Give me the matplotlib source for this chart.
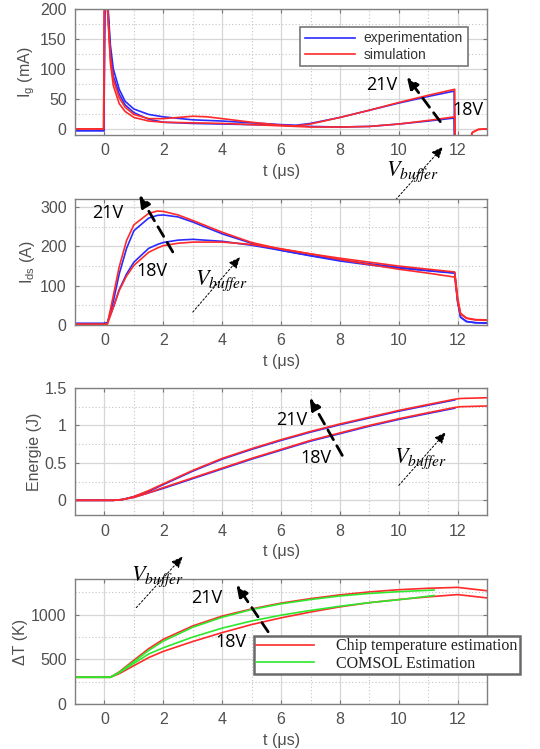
import numpy as np
import matplotlib
matplotlib.use("Agg")
import matplotlib.pyplot as plt
from matplotlib.ticker import MultipleLocator

plt.rcParams['font.family'] = ['Liberation Sans', 'DejaVu Sans']
plt.rcParams['mathtext.fontset'] = 'stix'

BLUE = '#2b2bff'
RED = '#ff2a2a'
GREEN = '#2ee82e'

# ---- gate current Ig (mA) ----
t_ig_exp21 = [-1, -0.02, 0.02, 0.1, 0.2, 0.3, 0.5, 0.7, 1.0, 1.5, 2, 3, 4, 5, 6, 6.5, 7, 8, 9, 10, 11, 11.88, 11.9, 13]
ig_exp21 = [-3, -3, 260, 220, 140, 100, 66, 46, 33, 24, 20, 15, 13, 10, 7, 6, 9, 19, 31, 43, 54, 63, -40, -40]
t_ig_exp18 = [-1, -0.02, 0.02, 0.1, 0.2, 0.3, 0.5, 0.7, 1.0, 1.5, 2, 3, 4, 5, 6, 7, 8, 9, 10, 11, 11.88, 11.9, 13]
ig_exp18 = [-3, -3, 260, 215, 125, 88, 58, 40, 27, 16, 11, 9, 8, 7, 6, 4, 3, 4, 8, 13, 18, -40, -40]
t_ig_sim21 = [-1, -0.03, 0.0, 0.1, 0.2, 0.3, 0.5, 0.7, 1.0, 1.5, 2, 2.5, 3, 3.5, 4, 5, 6, 6.5, 7, 8, 9, 10, 11, 11.9, 11.92, 12.3, 12.5, 12.7, 13]
ig_sim21 = [0, 0, 260, 200, 120, 82, 52, 36, 24, 17, 17, 19, 21, 20, 17, 11, 6, 5, 8, 19, 31, 44, 56, 66, -40, -40, -6, -1, 0]
t_ig_sim18 = [-1, -0.03, 0.0, 0.1, 0.2, 0.3, 0.5, 0.7, 1.0, 1.5, 2, 3, 4, 5, 6, 7, 8, 9, 10, 11, 11.9, 11.92, 12.3, 12.5, 12.7, 13]
ig_sim18 = [0, 0, 260, 205, 110, 72, 42, 29, 19, 13, 11, 10, 9, 7, 5, 3, 3, 4, 8, 14, 20, -40, -40, -6, -1, 0]

# ---- drain current Ids (A) ----
t_ids = [-1, 0, 0.1, 0.3, 0.5, 0.75, 1, 1.5, 1.8, 2, 2.5, 3, 4, 5, 6, 7, 8, 9, 10, 11, 11.9, 12.0, 12.1, 12.3, 12.6, 13]
ids_exp21 = [4, 4, 6, 60, 130, 195, 240, 272, 279, 280, 275, 262, 232, 208, 190, 177, 166, 156, 147, 139, 133, 60, 20, 9, 6, 5]
ids_sim21 = [2, 2, 3, 75, 148, 215, 255, 284, 290, 289, 280, 266, 236, 210, 193, 181, 170, 160, 150, 142, 135, 70, 30, 18, 14, 13]
ids_exp18 = [4, 4, 6, 45, 90, 130, 160, 195, 205, 210, 216, 218, 213, 203, 190, 176, 163, 153, 145, 138, 132, 60, 20, 9, 6, 5]
ids_sim18 = [2, 2, 3, 45, 88, 125, 152, 185, 196, 202, 208, 211, 211, 205, 194, 181, 167, 154, 142, 132, 122, 60, 28, 17, 13, 12]

# ---- energy (J) ----
t_e_exp = [-1, 0, 0.3, 0.6, 1, 1.5, 2, 3, 4, 5, 6, 7, 8, 9, 10, 11, 11.9]
e_exp21 = [0, 0, 0.0, 0.01, 0.05, 0.12, 0.21, 0.39, 0.55, 0.68, 0.80, 0.91, 1.01, 1.10, 1.19, 1.27, 1.34]
e_exp18 = [0, 0, 0.0, 0.01, 0.04, 0.10, 0.16, 0.29, 0.42, 0.55, 0.67, 0.79, 0.89, 0.99, 1.08, 1.16, 1.23]
t_e_sim = [-1, 0, 0.3, 0.6, 1, 1.5, 2, 3, 4, 5, 6, 7, 8, 9, 10, 11, 11.9, 12.1, 13]
e_sim21 = [0, 0, 0.0, 0.01, 0.05, 0.13, 0.22, 0.40, 0.56, 0.69, 0.81, 0.92, 1.02, 1.11, 1.20, 1.28, 1.35, 1.36, 1.37]
e_sim18 = [0, 0, 0.0, 0.01, 0.04, 0.10, 0.17, 0.30, 0.43, 0.56, 0.68, 0.80, 0.90, 1.00, 1.09, 1.17, 1.24, 1.25, 1.26]

# ---- temperature rise dT (K) ----
t_chip = [-1, 0, 0.2, 0.5, 1, 1.5, 2, 3, 4, 5, 6, 7, 8, 9, 10, 11, 12, 13]
dt_chip21 = [300, 300, 300, 360, 490, 620, 725, 875, 985, 1065, 1130, 1180, 1222, 1255, 1280, 1296, 1306, 1268]
dt_chip18 = [300, 300, 300, 340, 430, 520, 590, 700, 800, 890, 965, 1030, 1088, 1135, 1170, 1200, 1225, 1188]
t_comsol = [-1, 0, 0.2, 0.5, 1, 1.5, 2, 3, 4, 5, 6, 7, 8, 9, 10, 11.2]
dt_comsol21 = [300, 300, 300, 355, 475, 600, 705, 860, 972, 1058, 1122, 1170, 1210, 1238, 1258, 1276]
dt_comsol18 = [300, 300, 300, 350, 455, 560, 630, 750, 850, 930, 995, 1048, 1095, 1135, 1168, 1215]

xticks = [0, 2, 4, 6, 8, 10, 12]

fig = plt.figure(figsize=(5.4, 7.49), dpi=100)
L, W = 0.139, 0.763
ax1 = fig.add_axes([L, 0.820, W, 0.168])
ax2 = fig.add_axes([L, 0.566, W, 0.168])
ax3 = fig.add_axes([L, 0.312, W, 0.170])
ax4 = fig.add_axes([L, 0.060, W, 0.167])

TXT = '#505050'


def style(ax, ylim, ymaj, ylabel):
    ax.set_xlim(-1, 13)
    ax.set_ylim(*ylim)
    ax.set_xticks(xticks)
    ax.xaxis.set_minor_locator(MultipleLocator(1))
    ax.yaxis.set_major_locator(MultipleLocator(ymaj))
    ax.yaxis.set_minor_locator(MultipleLocator(ymaj / 2))
    ax.grid(which='major', color='#d6d6d6', lw=0.9, ls='-')
    ax.grid(which='minor', color='#c4c4c4', lw=0.8, ls=(0, (1, 2)))
    ax.set_axisbelow(True)
    ax.tick_params(which='both', direction='in', top=True, right=True, colors='#777777',
                   labelcolor=TXT, labelsize=11.5, length=3, pad=6)
    ax.tick_params(which='minor', length=0)
    for s in ax.spines.values():
        s.set_color('#808080')
        s.set_linewidth(1.0)
    ax.set_xlabel('t (\u03bcs)', fontsize=11.5, color=TXT, labelpad=4)
    ax.set_ylabel(ylabel, fontsize=11.5, color=TXT, labelpad=2)


lw = 1.2
# panel 1
ax1.plot(t_ig_exp21, ig_exp21, color=BLUE, lw=lw, label='experimentation')
ax1.plot(t_ig_exp18, ig_exp18, color=BLUE, lw=lw)
ax1.plot(t_ig_sim21, ig_sim21, color=RED, lw=lw, label='simulation')
ax1.plot(t_ig_sim18, ig_sim18, color=RED, lw=lw)
style(ax1, (-10, 200), 50, r'$\mathregular{I_g}$ (mA)')
leg1 = ax1.legend(loc='upper right', bbox_to_anchor=(0.97, 0.915), fontsize=10, frameon=True,
                  fancybox=False, handlelength=3.6, borderpad=0.35, labelspacing=0.15,
                  handletextpad=0.6, framealpha=1)
leg1.get_frame().set_edgecolor('#777777')
leg1.get_frame().set_linewidth(1.2)
for t in leg1.get_texts():
    t.set_color('#333333')

# panel 2
ax2.plot(t_ids, ids_exp21, color=BLUE, lw=lw)
ax2.plot(t_ids, ids_exp18, color=BLUE, lw=lw)
ax2.plot(t_ids, ids_sim21, color=RED, lw=lw)
ax2.plot(t_ids, ids_sim18, color=RED, lw=lw)
style(ax2, (0, 320), 100, r'$\mathregular{I_{ds}}$ (A)')

# panel 3
ax3.plot(t_e_exp, e_exp21, color=BLUE, lw=lw)
ax3.plot(t_e_exp, e_exp18, color=BLUE, lw=lw)
ax3.plot(t_e_sim, e_sim21, color=RED, lw=lw)
ax3.plot(t_e_sim, e_sim18, color=RED, lw=lw)
style(ax3, (-0.2, 1.5), 0.5, 'Energie (J)')
ax3.set_yticks([0, 0.5, 1, 1.5])
ax3.set_yticklabels(['0', '0.5', '1', '1.5'])
ax3.yaxis.set_minor_locator(MultipleLocator(0.25))

# panel 4
ax4.plot(t_chip, dt_chip21, color=RED, lw=lw, label='Chip temperature estimation')
ax4.plot(t_chip, dt_chip18, color=RED, lw=lw)
ax4.plot(t_comsol, dt_comsol21, color=GREEN, lw=lw, label='COMSOL Estimation')
ax4.plot(t_comsol, dt_comsol18, color=GREEN, lw=lw)
style(ax4, (0, 1400), 500, '\u0394T (K)')
leg4 = ax4.legend(loc='lower left', bbox_to_anchor=(0.415, 0.175), prop={'family': 'Liberation Serif', 'size': 11.5},
                  frameon=True, fancybox=False, handlelength=3.6, borderpad=0.15, labelspacing=0.1,
                  handletextpad=1.4, framealpha=1)
leg4.get_frame().set_edgecolor('#6a6a6a')
leg4.get_frame().set_linewidth(1.8)
for t in leg4.get_texts():
    t.set_color('#222222')


def annotate(ax, dash_from, dash_to, t21, t18, dot_from, dot_to, tv):
    ax.annotate('', xy=dash_to, xytext=dash_from, annotation_clip=False,
                arrowprops=dict(arrowstyle='-|>,head_length=0.7,head_width=0.3', color='black',
                                lw=2.0, ls=(0, (4, 2.5)), shrinkA=0, shrinkB=0))
    ax.text(*t21, '21V', fontsize=13, ha='center', va='center', family='Open Sans', clip_on=False)
    ax.text(*t18, '18V', fontsize=13, ha='center', va='center', family='Open Sans', clip_on=False)
    ax.annotate('', xy=dot_to, xytext=dot_from, annotation_clip=False,
                arrowprops=dict(arrowstyle='-|>,head_length=0.7,head_width=0.3', color='black',
                                lw=0.7, ls=(0, (2, 2)), shrinkA=0, shrinkB=0))
    ax.text(*tv, r'$V_{buffer}$', fontsize=16, ha='center', va='center', clip_on=False)


annotate(ax1, (11.41, 12), (10.27, 87), (9.43, 73), (12.36, 32), (9.9, -118), (11.5, -30), (10.47, -72))
annotate(ax2, (2.32, 186), (1.18, 331), (0.10, 285), (1.62, 137), (3.0, 33), (4.61, 173), (3.97, 112))
annotate(ax3, (8.08, 0.60), (6.97, 1.37), (6.36, 1.07), (7.2, 0.56), (10.0, 0.2), (11.6, 0.91), (10.74, 0.56))
annotate(ax4, (5.56, 809), (4.48, 1337), (3.47, 1191), (4.31, 697), (1.08, 1079), (2.66, 1652), (1.82, 1427))

fig.savefig('out.png', dpi=100)
